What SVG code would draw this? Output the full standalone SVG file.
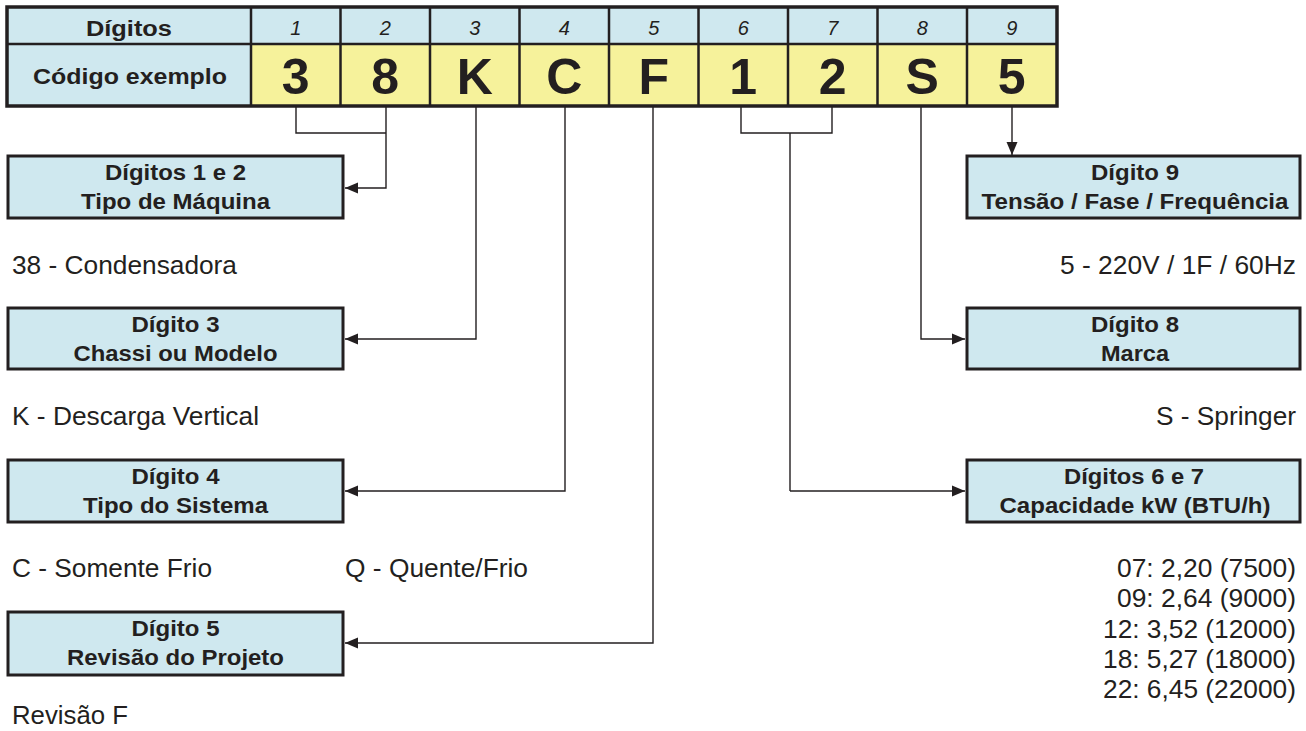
<svg xmlns="http://www.w3.org/2000/svg" width="1306" height="731" viewBox="0 0 1306 731">
  <style>
    .hdr { fill: #cfe8ef; }
    .val { fill: #f6f29b; }
    .grid { stroke: #231f20; stroke-width: 2.5; fill: none; }
    .frame { stroke: #231f20; stroke-width: 3.5; fill: none; }
    .box { fill: #cfe8ef; stroke: #231f20; stroke-width: 3; }
    .lbl { font-family: "Liberation Sans", Arial, sans-serif; font-weight: bold; font-size: 22px; fill: #231f20; text-anchor: middle; }
    .num { font-family: "Liberation Sans", Arial, sans-serif; font-style: italic; font-size: 20px; fill: #231f20; text-anchor: middle; }
    .big { font-family: "Liberation Sans", Arial, sans-serif; font-weight: bold; font-size: 50px; fill: #231f20; text-anchor: middle; }
    .txt { font-family: "Liberation Sans", Arial, sans-serif; font-size: 26px; fill: #231f20; }
    .end { text-anchor: end; }
    .wire { stroke: #231f20; stroke-width: 1.4; fill: none; }
  </style>
  <defs>
    <marker id="arrow" markerUnits="userSpaceOnUse" markerWidth="14" markerHeight="12" refX="13" refY="6" orient="auto">
      <path d="M0,0.5 L13,6 L0,11.5 z" fill="#231f20"/>
    </marker>
  </defs>

  <!-- code table -->
  <g id="code-table">
    <rect class="hdr" x="7" y="7" width="1050" height="37"/>
    <rect class="hdr" x="7" y="44" width="244" height="62"/>
    <rect class="val" x="251" y="44" width="806" height="62"/>
    <path class="grid" d="M7,44 H1057 M251,7 V106 M340.5,7 V106 M430,7 V106 M519.5,7 V106 M609,7 V106 M698.5,7 V106 M788,7 V106 M877.5,7 V106 M967,7 V106"/>
    <rect class="frame" x="7" y="7" width="1050" height="99"/>
    <text class="lbl" x="129" y="36" textLength="86" lengthAdjust="spacingAndGlyphs">Dígitos</text>
    <text class="lbl" x="130" y="84" textLength="194" lengthAdjust="spacingAndGlyphs">Código exemplo</text>
    <text class="num" x="295.75" y="35">1</text>
    <text class="num" x="385.25" y="35">2</text>
    <text class="num" x="474.75" y="35">3</text>
    <text class="num" x="564.25" y="35">4</text>
    <text class="num" x="653.75" y="35">5</text>
    <text class="num" x="743.25" y="35">6</text>
    <text class="num" x="832.75" y="35">7</text>
    <text class="num" x="922.25" y="35">8</text>
    <text class="num" x="1011.75" y="35">9</text>
    <text class="big" x="295.75" y="94">3</text>
    <text class="big" x="385.25" y="94">8</text>
    <text class="big" x="474.75" y="94">K</text>
    <text class="big" x="564.25" y="94">C</text>
    <text class="big" x="653.75" y="94">F</text>
    <text class="big" x="743.25" y="94">1</text>
    <text class="big" x="832.75" y="94">2</text>
    <text class="big" x="922.25" y="94">S</text>
    <text class="big" x="1011.75" y="94">5</text>
  </g>

  <!-- connectors -->
  <g id="connectors">
    <path class="wire" d="M296,107 V133 H386"/>
    <path class="wire" d="M386,107 V188 H345" marker-end="url(#arrow)"/>
    <path class="wire" d="M476,107 V339 H345" marker-end="url(#arrow)"/>
    <path class="wire" d="M565,107 V491 H345" marker-end="url(#arrow)"/>
    <path class="wire" d="M653,107 V643 H345" marker-end="url(#arrow)"/>
    <path class="wire" d="M741,107 V133 H832 V107 M790,133 V491"/>
    <path class="wire" d="M790,491 H965" marker-end="url(#arrow)"/>
    <path class="wire" d="M921,107 V339 H965" marker-end="url(#arrow)"/>
    <path class="wire" d="M1012,107 V155" marker-end="url(#arrow)"/>
  </g>

  <!-- digits 1 and 2 -->
  <g id="tipo-maquina">
    <rect class="box" x="8" y="156" width="335" height="62"/>
    <text class="lbl" x="175.5" y="180" textLength="141" lengthAdjust="spacingAndGlyphs">Dígitos 1 e 2</text>
    <text class="lbl" x="175.5" y="209" textLength="189" lengthAdjust="spacingAndGlyphs">Tipo de Máquina</text>
    <text class="txt" x="12" y="274" textLength="225" lengthAdjust="spacingAndGlyphs">38 - Condensadora</text>
  </g>

  <!-- digit 3 -->
  <g id="chassi">
    <rect class="box" x="8" y="308" width="335" height="61"/>
    <text class="lbl" x="175.5" y="332" textLength="88" lengthAdjust="spacingAndGlyphs">Dígito 3</text>
    <text class="lbl" x="175.5" y="361" textLength="204" lengthAdjust="spacingAndGlyphs">Chassi ou Modelo</text>
    <text class="txt" x="12" y="425" textLength="247" lengthAdjust="spacingAndGlyphs">K - Descarga Vertical</text>
  </g>

  <!-- digit 4 -->
  <g id="tipo-sistema">
    <rect class="box" x="8" y="460" width="335" height="62"/>
    <text class="lbl" x="175.5" y="484" textLength="88" lengthAdjust="spacingAndGlyphs">Dígito 4</text>
    <text class="lbl" x="175.5" y="513" textLength="185" lengthAdjust="spacingAndGlyphs">Tipo do Sistema</text>
    <text class="txt" x="12" y="577" textLength="200" lengthAdjust="spacingAndGlyphs">C - Somente Frio</text>
    <text class="txt" x="345" y="577" textLength="183" lengthAdjust="spacingAndGlyphs">Q - Quente/Frio</text>
  </g>

  <!-- digit 5 -->
  <g id="revisao">
    <rect class="box" x="8" y="612" width="335" height="63"/>
    <text class="lbl" x="175.5" y="636" textLength="88" lengthAdjust="spacingAndGlyphs">Dígito 5</text>
    <text class="lbl" x="175.5" y="665" textLength="217" lengthAdjust="spacingAndGlyphs">Revisão do Projeto</text>
    <text class="txt" x="12" y="724" textLength="116" lengthAdjust="spacingAndGlyphs">Revisão F</text>
  </g>

  <!-- digit 9 -->
  <g id="tensao">
    <rect class="box" x="967" y="156" width="333" height="62"/>
    <text class="lbl" x="1135" y="180" textLength="88" lengthAdjust="spacingAndGlyphs">Dígito 9</text>
    <text class="lbl" x="1135" y="209" textLength="307" lengthAdjust="spacingAndGlyphs">Tensão / Fase / Frequência</text>
    <text class="txt end" x="1296" y="274" textLength="236" lengthAdjust="spacingAndGlyphs">5 - 220V / 1F / 60Hz</text>
  </g>

  <!-- digit 8 -->
  <g id="marca">
    <rect class="box" x="967" y="308" width="333" height="61"/>
    <text class="lbl" x="1135" y="332" textLength="88" lengthAdjust="spacingAndGlyphs">Dígito 8</text>
    <text class="lbl" x="1135" y="361" textLength="68" lengthAdjust="spacingAndGlyphs">Marca</text>
    <text class="txt end" x="1296" y="425" textLength="140" lengthAdjust="spacingAndGlyphs">S - Springer</text>
  </g>

  <!-- digits 6 and 7 -->
  <g id="capacidade">
    <rect class="box" x="967" y="460" width="333" height="62"/>
    <text class="lbl" x="1134" y="484" textLength="140" lengthAdjust="spacingAndGlyphs">Dígitos 6 e 7</text>
    <text class="lbl" x="1135" y="513" textLength="271" lengthAdjust="spacingAndGlyphs">Capacidade kW (BTU/h)</text>
    <text class="txt end" x="1296" y="577" textLength="179" lengthAdjust="spacingAndGlyphs">07: 2,20 (7500)</text>
    <text class="txt end" x="1296" y="607" textLength="179" lengthAdjust="spacingAndGlyphs">09: 2,64 (9000)</text>
    <text class="txt end" x="1296" y="638" textLength="193" lengthAdjust="spacingAndGlyphs">12: 3,52 (12000)</text>
    <text class="txt end" x="1296" y="668" textLength="193" lengthAdjust="spacingAndGlyphs">18: 5,27 (18000)</text>
    <text class="txt end" x="1296" y="698" textLength="193" lengthAdjust="spacingAndGlyphs">22: 6,45 (22000)</text>
  </g>
</svg>
